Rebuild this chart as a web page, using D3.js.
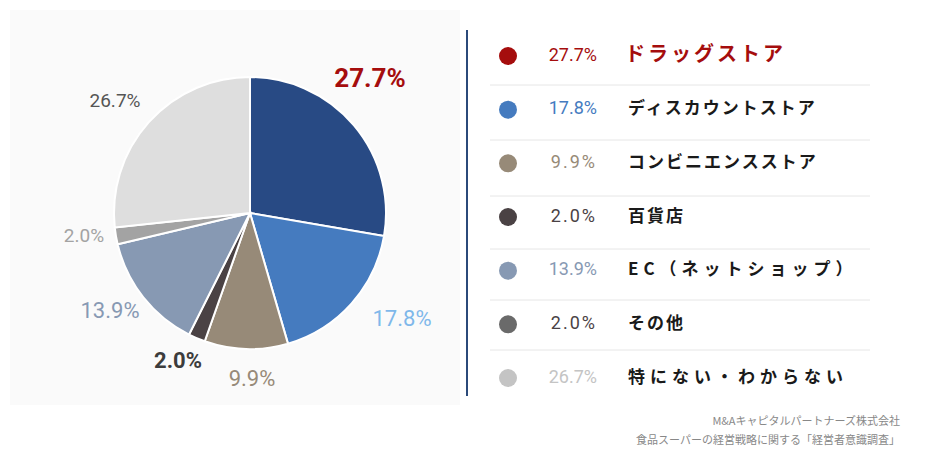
<!DOCTYPE html>
<html><head><meta charset="utf-8">
<script src="https://cdn.jsdelivr.net/npm/d3@7"></script>
<style>body{margin:0;background:#fff}</style></head>
<body><svg id="canvas" width="930" height="472"></svg>
<script>
let categories = ['ドラッグストア','ディスカウントストア','コンビニエンスストア','百貨店','EC（ネットショップ）','その他','特にない・わからない']
let values = [27.7, 17.8, 9.9, 2.0, 13.9, 2.0, 26.7]
let sliceColors = ['#284a84','#457bbf','#978a78','#4a4244','#8799b3','#a3a3a3','#dedede']
let dotColors = ['#a50d0d','#457bbf','#978a78','#4a4244','#8799b3','#6a6a6a','#c4c4c4']
let pctColors = ['#a50d0d','#457bbf','#978a78','#4a4244','#8799b3','#4a4244','#c4c4c4']
let pieLabelColors = ['#a50d0d','#7fb8ea','#978a78','#3c3c3c','#8799b3','#a3a3a3','#555']
let pieLabelPos = [[370,80],[402,320],[252,380],[178,362],[110,312],[84,237],[115,102]]
let pieLabelSize = [26,22,22,22,22,19,19]
let numFont = '"Liberation Sans Narrow","Roboto",sans-serif'
let jpFont = '"Noto Sans CJK JP",sans-serif'

let svg = d3.select('#canvas')
svg.append('rect').attr('x',10).attr('y',10).attr('width',450).attr('height',395).attr('fill','#fafafa')

let pie = d3.pie().sort(null).value(d => d)
let arc = d3.arc().innerRadius(0).outerRadius(136)
let g = svg.append('g').attr('transform','translate(250,213)')
g.selectAll('path').data(pie(values)).enter().append('path')
    .attr('d', arc).attr('fill', (d,i) => sliceColors[i])
    .attr('stroke','#fff').attr('stroke-width',2)

svg.selectAll('.plabel').data(values).enter().append('text')
    .attr('x', (d,i) => pieLabelPos[i][0]).attr('y', (d,i) => pieLabelPos[i][1])
    .attr('text-anchor','middle').attr('dominant-baseline','middle')
    .attr('font-family', numFont).attr('font-size', (d,i) => pieLabelSize[i])
    .attr('font-weight', (d,i) => (i===0||i===3) ? 'bold' : 'normal')
    .attr('fill', (d,i) => pieLabelColors[i])
    .text(d => d.toFixed(1) + '%')

svg.append('line').attr('x1',467).attr('x2',467).attr('y1',30).attr('y2',396)
    .attr('stroke','#2b4a7a').attr('stroke-width',2)

let rowY = d3.scalePoint().domain(d3.range(categories.length)).range([56,378])
let sepY = [85,140,196,249,300,350]
svg.selectAll('.sep').data(sepY).enter().append('line')
    .attr('x1',490).attr('x2',870).attr('y1',d=>d).attr('y2',d=>d)
    .attr('stroke','#e6e6e6')
let rows = svg.selectAll('.row').data(categories).enter().append('g')
    .attr('transform',(d,i)=>`translate(0,${rowY(i)})`)
rows.append('circle').attr('cx',508).attr('r',9).attr('fill',(d,i)=>dotColors[i])
rows.append('text').attr('x',597).attr('text-anchor','end').attr('dominant-baseline','middle')
    .attr('font-family',numFont).attr('font-size',18).attr('letter-spacing',(d,i)=>[2,3,5].includes(i)?2:0)
    .attr('fill',(d,i)=>pctColors[i]).text((d,i)=>values[i].toFixed(1)+'%')
rows.append('text').attr('x',(d,i)=>i===0?625:628).attr('dominant-baseline','middle')
    .attr('font-family',jpFont).attr('font-weight','bold')
    .attr('font-size',(d,i)=>i===0?20:17)
    .attr('letter-spacing',(d,i)=>i===4||i===6?5:(i===0?3:2))
    .attr('fill',(d,i)=>i===0?'#a50d0d':'#1a1a1a').text(d=>d)

svg.append('text').attr('x',900).attr('y',425).attr('text-anchor','end')
    .attr('font-family',jpFont).attr('font-size',11).attr('fill','#888').text('M&Aキャピタルパートナーズ株式会社')
svg.append('text').attr('x',900).attr('y',444).attr('text-anchor','end')
    .attr('font-family',jpFont).attr('font-size',11).attr('fill','#888').text('食品スーパーの経営戦略に関する「経営者意識調査」')
</script></body></html>
